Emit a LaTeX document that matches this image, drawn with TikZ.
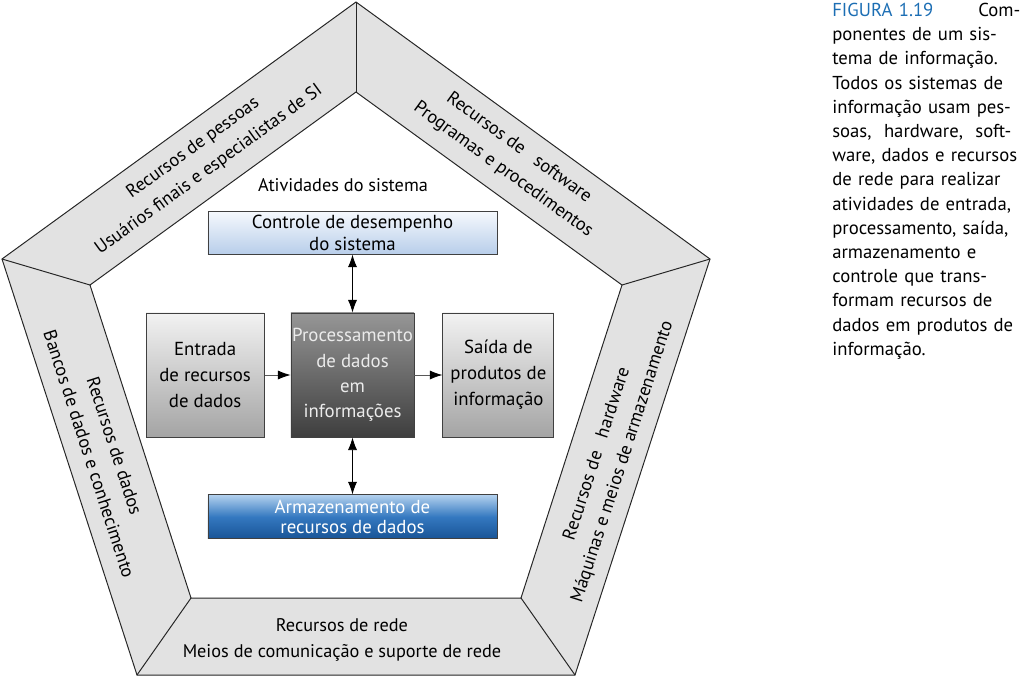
\documentclass[tikz,border=0pt]{standalone}
\usepackage{fontspec}
\setmainfont{PT Sans}
\usetikzlibrary{arrows.meta,positioning}
\definecolor{BandGray}{RGB}{226,226,226}
\definecolor{LegendaBlue}{RGB}{28,110,180}
\definecolor{ControleTop}{RGB}{246,249,253}
\definecolor{ControleBottom}{RGB}{184,206,234}
\definecolor{ArmTop}{RGB}{178,208,238}
\definecolor{ArmMid}{RGB}{52,120,192}
\definecolor{ArmBottom}{RGB}{24,84,150}
\definecolor{GrayTop}{RGB}{242,242,242}
\definecolor{GrayBottom}{RGB}{164,164,164}
\definecolor{ProcTop}{RGB}{150,150,150}
\definecolor{ProcBottom}{RGB}{62,62,62}

\begin{document}
\begin{tikzpicture}[x=0.025cm, y=-0.025cm,
    box/.style={draw=black!75, line width=0.6pt, inner sep=0pt, align=center},
    widebox/.style={box, minimum width=7.225cm, minimum height=1.1cm},
    tallbox/.style={box, minimum height=3.1cm},
    bandtext/.style={align=center, font=\fontsize{13}{19}\selectfont},
    arr/.style={draw=black!65, line width=0.6pt, -{Latex[length=9pt, width=6.5pt, color=black]}},
    dblarr/.style={line width=0.6pt, {Latex[length=9pt, width=6.5pt]}-{Latex[length=9pt, width=6.5pt]}},
    edge/.style={line width=0.7pt, draw=black!85}
]
    \useasboundingbox (0,0) rectangle (1024,679);
    % pentagon corners
    \coordinate (otop) at (356,2);
    \coordinate (oright) at (710,259);
    \coordinate (obr) at (575,675);
    \coordinate (obl) at (137,675);
    \coordinate (oleft) at (2,259);
    \coordinate (itop) at (356,92);
    \coordinate (iright) at (622,285);
    \coordinate (ibr) at (521,598);
    \coordinate (ibl) at (191,598);
    \coordinate (ileft) at (90,285);
    \fill[BandGray, even odd rule] (otop) -- (oright) -- (obr) -- (obl) -- (oleft) -- cycle
        (itop) -- (iright) -- (ibr) -- (ibl) -- (ileft) -- cycle;
    \draw[edge] (otop) -- (oright) -- (obr) -- (obl) -- (oleft) -- cycle;
    \draw[edge] (itop) -- (iright) -- (ibr) -- (ibl) -- (ileft) -- cycle;
    \draw[edge] (otop) -- (itop);
    \draw[edge] (oright) -- (iright);
    \draw[edge] (obr) -- (ibr);
    \draw[edge] (obl) -- (ibl);
    \draw[edge] (oleft) -- (ileft);

    % resources around the system
    \node[bandtext, rotate=36] (pessoas) at (201,159)
        {Recursos de pessoas\\Usuários finais e especialistas de SI};
    \node[bandtext, rotate=-36] (software) at (511,159)
        {Recursos de\hspace{0.8em}software\\Programas e procedimentos};
    \node[bandtext, rotate=72] (hardware) at (610,458)
        {Recursos de\hspace{0.8em}hardware\\Máquinas e meios de armazenamento};
    \node[bandtext, rotate=-72] (dados) at (102,450)
        {Recursos de dados\\Bancos de dados e conhecimento};
    \node[bandtext] (rede) at (342,640)
        {Recursos de rede\\Meios de comunicação e suporte de rede};

    % system activities
    \node[tallbox, minimum width=3.075cm, top color=ProcTop, bottom color=ProcBottom,
          text=white!92!black, font=\fontsize{13.4}{18}\selectfont] (proc) at (352.5,375)
        {Processamento\\de dados\\em\\informações};
    \node[tallbox, minimum width=2.95cm, top color=GrayTop, bottom color=GrayBottom,
          font=\fontsize{13.4}{18.5}\selectfont, left=0.65cm of proc] (entrada)
        {Entrada\\de recursos\\de dados};
    \node[tallbox, minimum width=2.775cm, top color=GrayTop, bottom color=GrayBottom,
          font=\fontsize{13.4}{18.5}\selectfont, right=0.7cm of proc] (saida)
        {Saída de\\produtos de\\informação};
    \node[widebox, minimum height=1.075cm, top color=ControleTop, bottom color=ControleBottom,
          font=\fontsize{13.4}{15.5}\selectfont, above=1.45cm of proc] (controle)
        {Controle de desempenho\\do sistema};
    \node[widebox, top color=ArmTop, bottom color=ArmBottom, middle color=ArmMid,
          text=white, font=\fontsize{13.4}{14}\selectfont, below=1.425cm of proc] (armaz)
        {Armazenamento de\\recursos de dados};
    \node[font=\fontsize{13}{16}\selectfont] (atividades) at (343,185) {Atividades do sistema};
    \draw[arr] (entrada) -- (proc);
    \draw[arr] (proc) -- (saida);
    \draw[dblarr] (controle) -- (proc);
    \draw[dblarr] (proc) -- (armaz);

    % caption
    \node[anchor=north west, text width=4.7cm, align=left, inner sep=0pt,
          font=\fontsize{13.3}{17.2}\selectfont] (legenda) at (832,3)
        {\textcolor{LegendaBlue}{FIGURA 1.19}\hfill Com-\\
         ponentes de um sis-\\
         tema de informação.\\
         Todos os sistemas de\\
         informação usam pes-\\
         soas,~ hardware,~ soft-\\
         ware, dados e recursos\\
         de rede para realizar\\
         atividades de entrada,\\
         processamento, saída,\\
         armazenamento e\\
         controle que trans-\\
         formam recursos de\\
         dados em produtos de\\
         informação.};
\end{tikzpicture}
\end{document}
